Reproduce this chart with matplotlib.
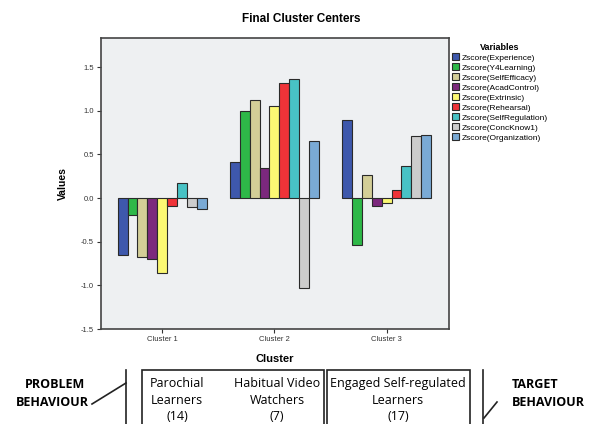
import numpy as np
import matplotlib.pyplot as plt
from matplotlib.lines import Line2D
from matplotlib.patches import Rectangle

plt.rcParams['font.family'] = ['Liberation Sans', 'DejaVu Sans']

clusters = ['Cluster 1', 'Cluster 2', 'Cluster 3']
variables = ['Zscore(Experience)', 'Zscore(Y4Learning)', 'Zscore(SelfEfficacy)',
             'Zscore(AcadControl)', 'Zscore(Extrinsic)', 'Zscore(Rehearsal)',
             'Zscore(SelfRegulation)', 'Zscore(ConcKnow1)', 'Zscore(Organization)']
# rows = variables, columns = clusters
centers = [
    [-0.65, 0.41, 0.89],
    [-0.19, 1.00, -0.54],
    [-0.68, 1.12, 0.27],
    [-0.70, 0.34, -0.09],
    [-0.86, 1.06, -0.06],
    [-0.09, 1.32, 0.09],
    [0.17, 1.36, 0.37],
    [-0.10, -1.03, 0.71],
    [-0.13, 0.66, 0.72],
]
colors = ['#3E58AC', '#2EB848', '#D3CE97', '#7C287D', '#FBF873',
          '#EF3338', '#48C2C5', '#CCCCCC', '#7AAAD5']
groups = [('Parochial\nLearners\n(14)', 177), ('Habitual Video\nWatchers\n(7)', 277),
          ('Engaged Self-regulated\nLearners\n(17)', 398)]

W, H = 603, 424
fig = plt.figure(figsize=(W / 100, H / 100), dpi=100)
ax = fig.add_axes([101 / W, 1 - 329 / H, 348 / W, 291 / H])
ax.set_facecolor('#EEF0F2')

x = np.arange(len(clusters))
w = 0.088
for i, (name, vals) in enumerate(zip(variables, centers)):
    ax.bar(x + (i - 4) * w, vals, width=w, color=colors[i],
           edgecolor='#2a2a2a', linewidth=0.8, label=name)

ax.set_xlim(-0.545, 2.556)
ax.set_ylim(-1.5, 1.835)
ax.set_yticks([-1.5, -1.0, -0.5, 0.0, 0.5, 1.0, 1.5])
ax.set_yticklabels(['-1.5', '-1.0', '-0.5', '0.0', '0.5', '1.0', '1.5'])
ax.set_xticks(x)
ax.set_xticklabels(clusters)
ax.tick_params(labelsize=5.5, length=3, width=0.8, colors='#333333', pad=2)
for s in ax.spines.values():
    s.set_color('#444444')
    s.set_linewidth(1.2)

def fx(px):
    return px / W

def fy(py):
    return 1 - py / H

fig.text(0.5, fy(19), 'Final Cluster Centers', ha='center', va='center',
         fontsize=8.5, fontweight='bold')
ax.set_ylabel('Values', fontsize=7.5, fontweight='bold')
ax.yaxis.set_label_coords((68 - 101) / 348, 0.5)
ax.set_xlabel('Cluster', fontsize=8, fontweight='bold', labelpad=8)

fig.legend(loc='upper left', bbox_to_anchor=(446 / W, 1 - 37 / H),
           fontsize=6, frameon=False, title='Variables',
           title_fontproperties={'weight': 'bold', 'size': 6.5},
           handlelength=0.9, handleheight=0.9, handletextpad=0.3,
           labelspacing=0.2, borderpad=0.2)

# annotation strip under the chart (pixel coordinates)
ann_font = ['Open Sans', 'DejaVu Sans']
fs = 9
fig.text(fx(55), fy(384), 'PROBLEM', ha='center', va='center', fontsize=fs,
         fontweight='bold', family=ann_font)
fig.text(fx(52), fy(402), 'BEHAVIOUR', ha='center', va='center', fontsize=fs,
         fontweight='bold', family=ann_font)
fig.text(fx(512), fy(384), 'TARGET', ha='left', va='center', fontsize=fs,
         fontweight='bold', family=ann_font)
fig.text(fx(512), fy(402), 'BEHAVIOUR', ha='left', va='center', fontsize=fs,
         fontweight='bold', family=ann_font)

for txt, cx in groups:
    fig.text(fx(cx), fy(400), txt, ha='center', va='center', fontsize=fs,
             family=ann_font, linespacing=1.35)

lines = [((92, 404), (126, 383)), ((126, 370), (126, 430)),
         ((484, 418), (497, 402)), ((483, 370), (483, 430))]
for (x0, y0), (x1, y1) in lines:
    fig.add_artist(Line2D([fx(x0), fx(x1)], [fy(y0), fy(y1)], color='#222222', lw=1.2))

for x0, x1 in [(142, 324), (327, 470)]:
    fig.add_artist(Rectangle((fx(x0), fy(430)), fx(x1) - fx(x0), fy(370) - fy(430),
                             fill=False, edgecolor='#222222', lw=1.2))

fig.savefig('out.png', dpi=100)
